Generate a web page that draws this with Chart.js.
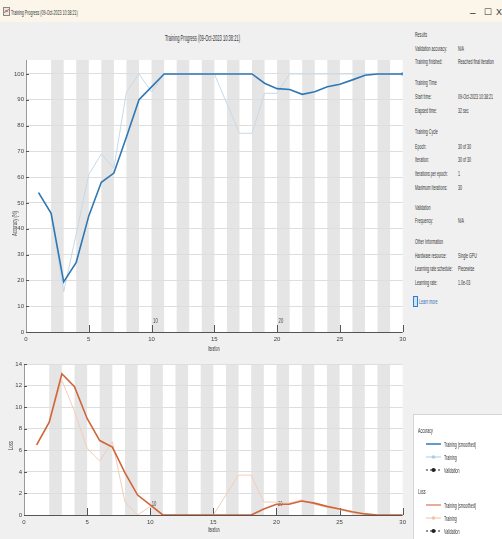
<!DOCTYPE html>
<html>
<head>
<meta charset="utf-8">
<title>Training Progress</title>
<script src="https://cdn.jsdelivr.net/npm/chart.js@4.4.0/dist/chart.umd.min.js"></script>
<style>
  html, body { margin: 0; padding: 0; background: #f0f0f0; }
  #win { position: relative; width: 502px; height: 539px; overflow: hidden; background: #f0f0f0;
         font-family: "Liberation Sans", Arial, sans-serif; color: #333; }
  #titlebar { position: absolute; left: 0; top: 0; width: 502px; height: 22px; background: #fbf5ea; }
  .t { position: absolute; white-space: nowrap; font-size: 8px; line-height: 9px;
       transform-origin: 0 50%; transform: translateY(-50%) scaleX(0.45); }
  .rot { position: absolute; white-space: nowrap; font-size: 7px; line-height: 8px; color: #444;
         transform-origin: 0 0; }
  canvas { position: absolute; left: 0; }
  #legend { position: absolute; left: 413px; top: 414px; width: 100px; height: 140px;
            background: #ffffff; border: 1px solid #d4d4d4; }
  #legend svg { position: absolute; left: 0; }
</style>
</head>
<body>
<div id="win">
  <div id="titlebar"></div>
  <svg style="position:absolute;left:3px;top:7px" width="7" height="9">
    <rect x="0.5" y="0.5" width="6" height="8" fill="#e8e8e8" stroke="#888" stroke-width="1"/>
    <path d="M1.5 6 L3 3 L4 5 L5.5 2" stroke="#d0653a" stroke-width="1" fill="none"/>
  </svg>
  <div class="t" style="left:11px;top:12px;">Training Progress (09-Oct-2023 10:38:21)</div>
  <div class="t" style="left:470px;top:12px;font-size:10px;transform:translateY(-50%)">–</div>
  <div class="t" style="left:484px;top:12px;font-size:9px;transform:translateY(-50%)">☐</div>
  <div class="t" style="left:496px;top:12px;font-size:9px;transform:translateY(-50%)">X</div>

  <div class="t" style="left:165px;top:38px;font-size:9px;">Training Progress (09-Oct-2023 10:38:21)</div>

  <canvas id="accChart" width="410" height="310" style="top:50px;width:410px;height:310px;"></canvas>
  <canvas id="lossChart" width="410" height="184" style="top:355px;width:410px;height:184px;"></canvas>

  <div class="rot" style="left:11px;top:236px;transform:rotate(-90deg) scaleX(0.6);">Accuracy (%)</div>
  <div class="rot" style="left:7px;top:450px;transform:rotate(-90deg) scaleX(0.6);">Loss</div>
  <div class="t" style="left:208px;top:348px;font-size:7px;">Iteration</div>
  <div class="t" style="left:208px;top:529px;font-size:7px;">Iteration</div>

  <!-- information panel -->
  <div class="t" style="left:415px;top:34px;">Results</div>
  <div class="t" style="left:415px;top:48px;">Validation accuracy:</div>
  <div class="t" style="left:458px;top:48px;">N/A</div>
  <div class="t" style="left:415px;top:61px;">Training finished:</div>
  <div class="t" style="left:458px;top:61px;">Reached final iteration</div>

  <div class="t" style="left:415px;top:82px;">Training Time</div>
  <div class="t" style="left:415px;top:96px;">Start time:</div>
  <div class="t" style="left:458px;top:96px;">09-Oct-2023 10:38:21</div>
  <div class="t" style="left:415px;top:110px;">Elapsed time:</div>
  <div class="t" style="left:458px;top:110px;">32 sec</div>

  <div class="t" style="left:415px;top:131px;">Training Cycle</div>
  <div class="t" style="left:415px;top:146px;">Epoch:</div>
  <div class="t" style="left:458px;top:146px;">30 of 30</div>
  <div class="t" style="left:415px;top:159px;">Iteration:</div>
  <div class="t" style="left:458px;top:159px;">30 of 30</div>
  <div class="t" style="left:415px;top:173px;">Iterations per epoch:</div>
  <div class="t" style="left:458px;top:173px;">1</div>
  <div class="t" style="left:415px;top:187px;">Maximum iterations:</div>
  <div class="t" style="left:458px;top:187px;">30</div>

  <div class="t" style="left:415px;top:207px;">Validation</div>
  <div class="t" style="left:415px;top:220px;">Frequency:</div>
  <div class="t" style="left:458px;top:220px;">N/A</div>

  <div class="t" style="left:415px;top:241px;">Other Information</div>
  <div class="t" style="left:415px;top:255px;">Hardware resource:</div>
  <div class="t" style="left:458px;top:255px;">Single GPU</div>
  <div class="t" style="left:415px;top:268px;">Learning rate schedule:</div>
  <div class="t" style="left:458px;top:268px;">Piecewise</div>
  <div class="t" style="left:415px;top:282px;">Learning rate:</div>
  <div class="t" style="left:458px;top:282px;">1.0e-03</div>

  <svg style="position:absolute;left:413px;top:296px" width="5" height="11">
    <rect x="0.5" y="0.5" width="4" height="10" fill="#cfe3f7" stroke="#2f7fd0" stroke-width="1"/>
  </svg>
  <div class="t" style="left:419px;top:301px;color:#2d6db5;">Learn more</div>

  <!-- legend -->
  <div id="legend">
    <svg width="100" height="130">
      <line x1="12" y1="29" x2="27" y2="29" stroke="#2f78b4" stroke-width="1.5"/>
      <line x1="12" y1="42" x2="27" y2="42" stroke="#a9cbe6" stroke-width="1"/>
      <circle cx="19.5" cy="42" r="1.8" fill="#a9cbe6"/>
      <line x1="12" y1="55" x2="27" y2="55" stroke="#222" stroke-width="1" stroke-dasharray="2,2"/>
      <circle cx="19.5" cy="55" r="2" fill="#222"/>
      <line x1="12" y1="90" x2="27" y2="90" stroke="#d0653a" stroke-width="1.5" opacity="0.7"/>
      <line x1="12" y1="103" x2="27" y2="103" stroke="#f0c2a8" stroke-width="1"/>
      <circle cx="19.5" cy="103" r="1.8" fill="#f0c2a8"/>
      <line x1="12" y1="116" x2="27" y2="116" stroke="#222" stroke-width="1" stroke-dasharray="2,2"/>
      <circle cx="19.5" cy="116" r="2" fill="#222"/>
    </svg>
    <div class="t" style="left:4px;top:15px;">Accuracy</div>
    <div class="t" style="left:30px;top:29px;">Training (smoothed)</div>
    <div class="t" style="left:30px;top:42px;">Training</div>
    <div class="t" style="left:30px;top:55px;">Validation</div>
    <div class="t" style="left:4px;top:76px;">Loss</div>
    <div class="t" style="left:30px;top:90px;">Training (smoothed)</div>
    <div class="t" style="left:30px;top:103px;">Training</div>
    <div class="t" style="left:30px;top:116px;">Validation</div>
  </div>
</div>

<script>
// Iteration numbers (one iteration per epoch)
const iterations = [1,2,3,4,5,6,7,8,9,10,11,12,13,14,15,16,17,18,19,20,21,22,23,24,25,26,27,28,29,30];

// Accuracy (%)
const accSmoothed = [54,46,19.4,27,45,58,61.6,75.6,90,95,100,100,100,100,100,100,100,100,96.4,94.3,94,92.1,93.1,95,96,97.7,99.5,100,100,100];
const accTraining = [54,46,15.5,38,61,69,63.5,93,100,93,100,100,100,100,100,88.5,77,77,92.5,92.5,100,100,100,100,100,100,100,100,100,100];

// Loss
const lossSmoothed = [6.5,8.6,13.1,11.9,8.95,6.9,6.3,3.9,1.85,0.93,0,0,0,0,0,0,0,0,0.55,1.0,1.0,1.3,1.1,0.8,0.55,0.3,0.1,0,0,0];
const lossTraining = [6.5,8.6,12.5,9.6,6.2,5.0,6.8,1.2,0,0.8,0,0,0,0,0,1.85,3.7,3.7,1.2,1.2,1.1,1.4,1.0,0.7,0.5,0.2,0,0,0,0];

// Axis ticks
const xTicks = [0,5,10,15,20,25,30];
const accTicks = [0,10,20,30,40,50,60,70,80,90,100];
const lossTicks = [0,2,4,6,8,10,12,14];
// Epoch labels shown along the iteration axis
const epochMarks = [10,20];

const MAX_IT = 30;

function pts(ys) { return iterations.map((x, i) => ({ x: x, y: ys[i] })); }

// White plot background, alternating epoch shading
const epochShading = {
  id: 'epochShading',
  beforeDraw(chart) {
    const { ctx, chartArea: a, scales: { x } } = chart;
    ctx.save();
    ctx.fillStyle = '#ffffff';
    ctx.fillRect(a.left, a.top, a.right - a.left, a.bottom - a.top);
    ctx.fillStyle = '#e5e5e5';
    for (let e = 2; e < MAX_IT; e += 2) {
      const x0 = x.getPixelForValue(e), x1 = x.getPixelForValue(e + 1);
      ctx.fillRect(x0, a.top, x1 - x0, a.bottom - a.top);
    }
    ctx.restore();
  }
};

// Axis lines, inward ticks and epoch labels
const axisFrame = {
  id: 'axisFrame',
  beforeDatasetsDraw(chart) {
    const { ctx, chartArea: a, scales: { x, y } } = chart;
    ctx.save();
    ctx.strokeStyle = '#9a9a9a';
    ctx.lineWidth = 1;
    ctx.beginPath();
    ctx.moveTo(a.left + 0.5, a.top);
    ctx.lineTo(a.left + 0.5, a.bottom);
    ctx.stroke();
    ctx.strokeStyle = '#555';
    ctx.beginPath();
    ctx.moveTo(a.left, Math.round(a.bottom) + 0.5);
    ctx.lineTo(a.right, Math.round(a.bottom) + 0.5);
    ctx.stroke();
    // inward x ticks
    xTicks.forEach(v => {
      if (v === 0) return;
      const px = Math.round(x.getPixelForValue(v)) + 0.5;
      ctx.beginPath();
      ctx.moveTo(px, a.bottom);
      ctx.lineTo(px, a.bottom - 7);
      ctx.stroke();
    });
    // inward y ticks
    y.ticks.forEach(t => {
      const py = Math.round(y.getPixelForValue(t.value)) + 0.5;
      ctx.beginPath();
      ctx.moveTo(a.left, py);
      ctx.lineTo(a.left + 3, py);
      ctx.stroke();
    });
    // epoch labels
    ctx.fillStyle = '#444';
    ctx.font = '7px "Liberation Sans", Arial, sans-serif';
    epochMarks.forEach(v => {
      const px = x.getPixelForValue(v);
      ctx.save();
      ctx.translate(px + 1.5, a.bottom - 9);
      ctx.scale(0.6, 1);
      ctx.fillText(String(v), 0, 0);
      ctx.restore();
    });
    ctx.restore();
  }
};

function fixedTicks(list) {
  return function (scale) {
    scale.ticks = list.map(v => ({ value: v }));
  };
}

function makeChart(id, cfg) {
  return new Chart(document.getElementById(id), {
    type: 'line',
    data: { datasets: cfg.datasets },
    options: {
      responsive: false,
      animation: false,
      events: [],
      layout: { padding: { top: cfg.padTop, right: 6, left: 0, bottom: 0 } },
      plugins: { legend: { display: false }, tooltip: { enabled: false } },
      elements: { line: { tension: 0 } },
      scales: {
        x: {
          type: 'linear', min: 0, max: MAX_IT,
          afterBuildTicks: fixedTicks(xTicks),
          ticks: { font: { size: 6, family: '"Liberation Sans", Arial, sans-serif' }, color: '#444', padding: 4, maxRotation: 0, autoSkip: false },
          grid: { display: false, drawTicks: false },
          border: { display: false },
          afterFit(s) { s.height = cfg.xHeight; }
        },
        y: {
          min: 0, max: cfg.yMax,
          afterBuildTicks: fixedTicks(cfg.yTicks),
          ticks: { font: { size: 6, family: '"Liberation Sans", Arial, sans-serif' }, color: '#444', padding: 2, autoSkip: false },
          grid: { color: '#dedede', drawTicks: false, lineWidth: 1 },
          border: { display: false },
          afterFit(s) { s.width = cfg.yWidth; }
        }
      }
    },
    plugins: [epochShading, axisFrame]
  });
}

makeChart('accChart', {
  padTop: 10, xHeight: 28, yWidth: 26, yMax: 105.4, yTicks: accTicks,
  datasets: [
    { label: 'Training (smoothed)', data: pts(accSmoothed), borderColor: '#2f78b4', borderWidth: 1.6,
      pointRadius: c => (c.dataIndex === iterations.length - 1 ? 1.6 : 0), pointBackgroundColor: '#2f78b4',
      pointBorderWidth: 0, order: 0 },
    { label: 'Training', data: pts(accTraining), borderColor: '#c6d9e8', borderWidth: 1, pointRadius: 0, order: 1 }
  ]
});

makeChart('lossChart', {
  padTop: 9, xHeight: 24, yWidth: 24, yMax: 14, yTicks: lossTicks,
  datasets: [
    { label: 'Training (smoothed)', data: pts(lossSmoothed), borderColor: '#d0653a', borderWidth: 1.6, pointRadius: 0, order: 0 },
    { label: 'Training', data: pts(lossTraining), borderColor: '#f2cdb9', borderWidth: 1, pointRadius: 0, order: 1 }
  ]
});
</script>
</body>
</html>
